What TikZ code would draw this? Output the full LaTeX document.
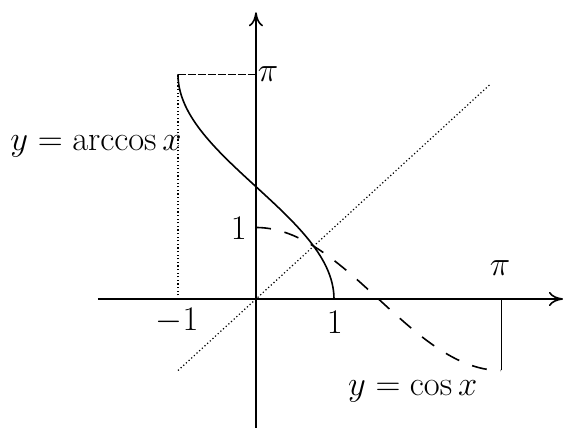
\documentclass[tikz,border=0pt]{standalone}
\usetikzlibrary{arrows.meta}
\begin{document}
\begin{tikzpicture}[x=39pt,y=35.75pt,
  font=\fontsize{17}{20}\selectfont,
  axis/.style={line width=0.8pt,-{To[length=7pt,width=7pt]}},
  curve/.style={line width=0.8pt},
  dashcurve/.style={line width=0.8pt,dash pattern=on 7.5pt off 7pt},
  dotline/.style={line width=0.6pt,dash pattern=on 0.6pt off 1.2pt},
  guide/.style={line width=0.7pt,dash pattern=on 4pt off 1pt},
  lbl/.style={inner sep=0pt}]
\useasboundingbox (-3.282,-1.804) rectangle (3.949,4.182);
% axes
\coordinate (xl) at (-2.026,0);
\coordinate (xr) at (3.936,0);
\coordinate (yb) at (0,-1.80);
\coordinate (yt) at (0,4.01);
\draw[axis] (xl) -- (xr);
\draw[axis] (yb) -- (yt);
% guides
\coordinate (m1) at (-1,0);
\coordinate (m1pi) at (-1,pi);
\coordinate (ypi) at (0,pi);
\coordinate (xpi) at (pi,0);
\coordinate (xpim) at (pi,-1);
\draw[dotline] (m1) -- (m1pi);
\draw[guide] (m1pi) -- (ypi);
\draw[line width=0.5pt] (xpi) -- (xpim);
% diagonal y=x
\coordinate (d1) at (-1,-1);
\coordinate (d2) at (3,3);
\draw[dotline] (d1) -- (d2);
% arccos
\draw[curve] plot[domain=0:pi,samples=80,smooth] ({cos(\x r)},{\x});
% cos
\draw[dashcurve] plot[domain=0:pi,samples=80,smooth] ({\x},{cos(\x r)});
% labels
\node[lbl] (lpiy) at (0.155,pi) {$\pi$};
\node[lbl] (l1y) at (-0.22,0.99) {$1$};
\node[lbl] (lm1) at (-1.01,-0.31) {$-1$};
\node[lbl] (l1x) at (1.01,-0.33) {$1$};
\node[lbl] (lpix) at (3.13,0.43) {$\pi$};
\node[lbl] (larc) at (-2.05,2.13) {$y=\arccos x$};
\node[lbl] (lcos) at (2.01,-1.29) {$y=\cos x$};
\end{tikzpicture}
\end{document}
